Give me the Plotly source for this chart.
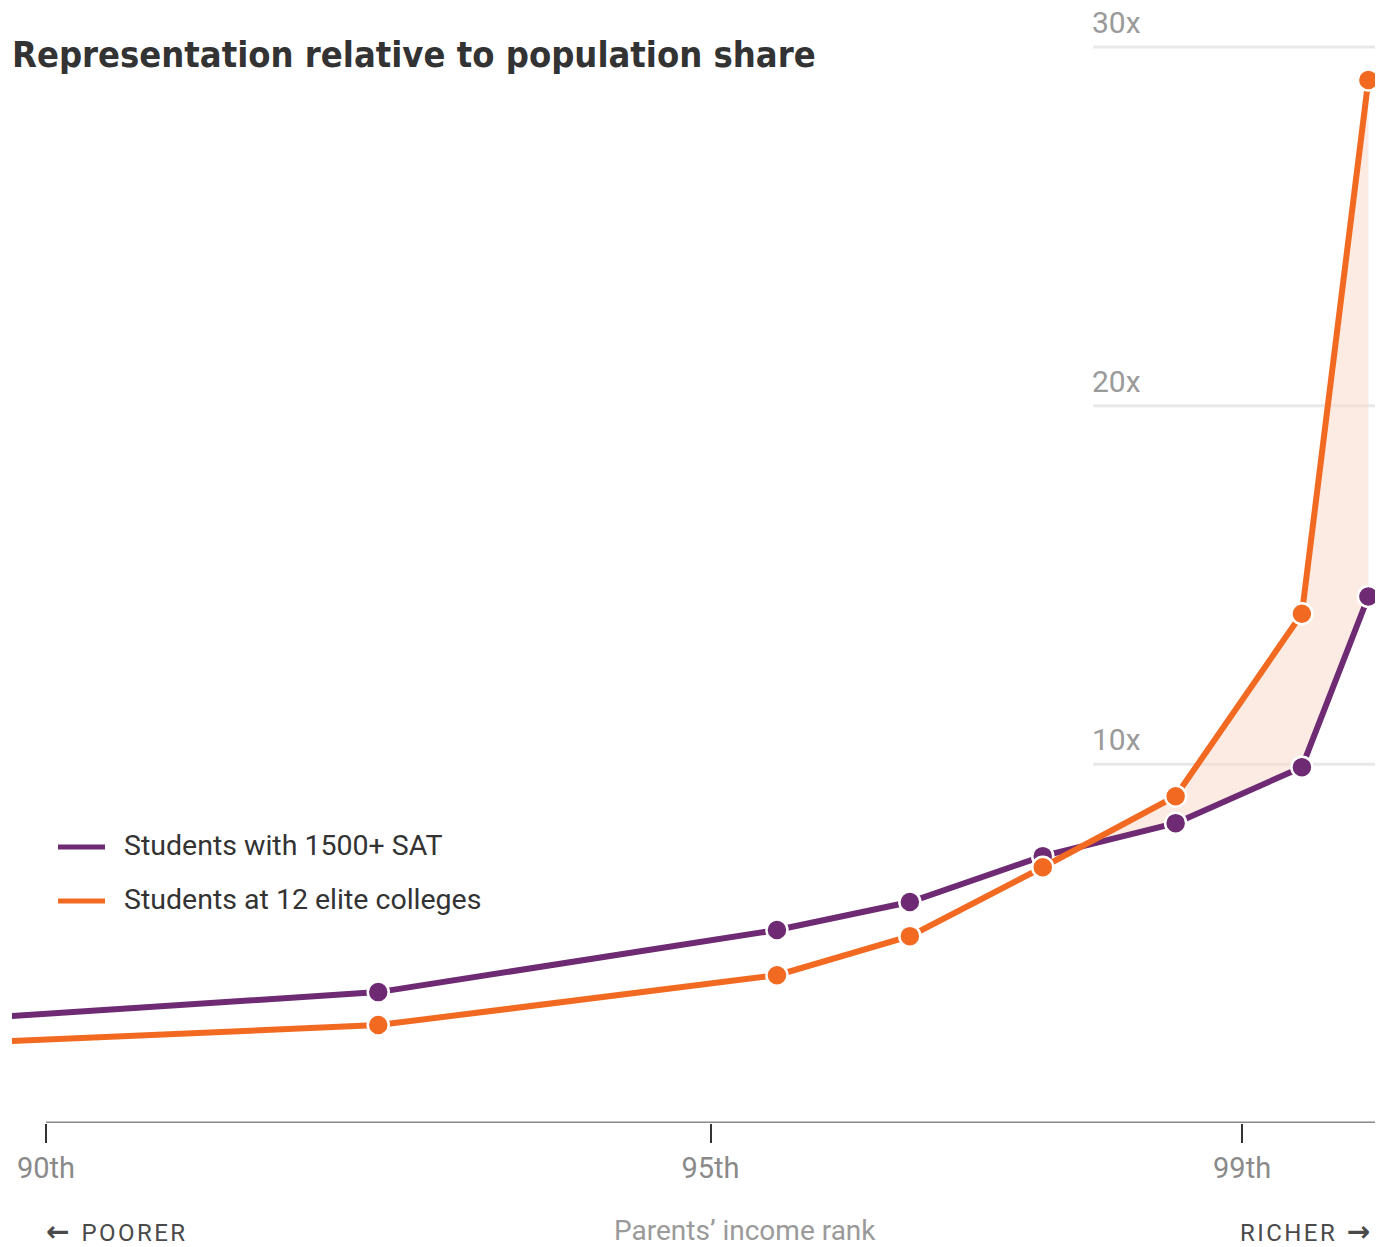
import numpy as np
import plotly.graph_objects as go

# ---- data ----
income_rank = [87.5, 92.5, 95.5, 96.5, 97.5, 98.5, 99.45, 99.95]
sat_1500 = [2.44, 3.65, 5.38, 6.16, 7.44, 8.36, 9.92, 14.68]
elite_colleges = [1.92, 2.73, 4.12, 5.21, 7.13, 9.11, 14.2, 29.08]
tick_vals = [90, 95, 99]
tick_text = ["90th", "95th", "99th"]
grid_vals = [10, 20, 30]
grid_text = ["10x", "20x", "30x"]
series_names = ["Students with 1500+ SAT", "Students at 12 elite colleges"]

PURPLE = "#6e2a73"
ORANGE = "#f26a22"
FILL = "rgba(250,215,198,0.5)"

W, H = 1394, 1247
L, R, T, B = 12, 1375, 0, 1123


def px(x):
    return (x - L) / (R - L)


def py(y):
    return (B - y) / (B - T)


# crossing point for the shaded region
xs = np.array(income_rank)
d = np.array(elite_colleges) - np.array(sat_1500)
i = int(np.where((d[:-1] < 0) & (d[1:] >= 0))[0][-1])
t = -d[i] / (d[i + 1] - d[i])
xc = xs[i] + t * (xs[i + 1] - xs[i])
yc = sat_1500[i] + t * (sat_1500[i + 1] - sat_1500[i])
fill_x = [xc] + income_rank[i + 1:] + income_rank[i + 1:][::-1]
fill_y = [yc] + elite_colleges[i + 1:] + sat_1500[i + 1:][::-1]

fig = go.Figure()
fig.add_trace(go.Scatter(x=fill_x, y=fill_y, fill="toself", fillcolor=FILL,
                         line=dict(width=0), mode="lines", hoverinfo="skip",
                         showlegend=False))
for name, vals, col in [(series_names[0], sat_1500, PURPLE),
                        (series_names[1], elite_colleges, ORANGE)]:
    fig.add_trace(go.Scatter(
        x=income_rank, y=vals, name=name, mode="lines+markers",
        line=dict(color=col, width=6),
        marker=dict(size=21, color=col, line=dict(color="white", width=2.5)),
        showlegend=False))

shapes = []
annotations = []
# gridlines on the right
for v, txt in zip(grid_vals, grid_text):
    shapes.append(dict(type="line", xref="x", yref="y", x0=97.88, x1=100, y0=v, y1=v,
                       line=dict(color="#e8e8e8", width=3), layer="below"))
    annotations.append(dict(xref="x", yref="y", x=97.88, y=v, text=txt, showarrow=False,
                            xanchor="left", yanchor="bottom", yshift=5, xshift=-3,
                            font=dict(family="Roboto", size=30, color="#9a9a9a")))
# x axis baseline
shapes.append(dict(type="line", xref="x", yref="y", x0=90, x1=100, y0=0, y1=0,
                   line=dict(color="#8a8a8a", width=3)))

# legend
for k, (name, col) in enumerate(zip(series_names, [PURPLE, ORANGE])):
    ypx = 847 + k * 54
    shapes.append(dict(type="line", xref="paper", yref="paper",
                       x0=px(58), x1=px(105), y0=py(ypx), y1=py(ypx),
                       line=dict(color=col, width=5)))
    annotations.append(dict(xref="paper", yref="paper", x=px(122), y=py(ypx - 2),
                            text=name, showarrow=False, xanchor="left", yanchor="middle",
                            font=dict(family="Roboto", size=28.5, color="#333333")))

# title
annotations.append(dict(xref="paper", yref="paper", x=px(10), y=py(55),
                        text="<b>Representation relative to population share</b>",
                        showarrow=False, xanchor="left", yanchor="middle",
                        font=dict(family="DejaVu Sans Condensed, Liberation Sans Narrow, Roboto, sans-serif",
                                  size=36, color="#333333")))
# bottom labels
HS = "\u200a"
ARROW = "<span style=\"font-family:'DejaVu Sans';font-size:28px\"><b>{}</b></span>"
annotations.append(dict(xref="paper", yref="paper", x=px(44), y=py(1231),
                        text=ARROW.format("←") + "\u00a0\u00a0" + HS.join("POORER"), showarrow=False,
                        xanchor="left", yanchor="middle",
                        font=dict(family="Roboto", size=24, color="#4a4a4a")))
annotations.append(dict(xref="paper", yref="paper", x=px(745), y=py(1230),
                        text="Parents’ income rank", showarrow=False, xanchor="center",
                        yanchor="middle", font=dict(family="Roboto", size=28, color="#9a9a9a")))
annotations.append(dict(xref="paper", yref="paper", x=px(1372), y=py(1231),
                        text=HS.join("RICHER") + "\u00a0\u00a0" + ARROW.format("→"), showarrow=False,
                        xanchor="right", yanchor="middle",
                        font=dict(family="Roboto", size=24, color="#4a4a4a")))

fig.update_layout(
    width=W, height=H,
    margin=dict(l=L, r=W - R, t=T, b=H - B, pad=0),
    plot_bgcolor="white", paper_bgcolor="white",
    xaxis=dict(range=[90 - 34 / 132.9, 100], tickvals=tick_vals, ticktext=tick_text,
               showgrid=False, zeroline=False, showline=False,
               ticks="outside", ticklen=19, tickwidth=2, tickcolor="#333333",
               tickfont=dict(family="Roboto", size=29, color="#8a8a8a")),
    yaxis=dict(range=[0, 30 + 47 / 35.87], showgrid=False, zeroline=False,
               showticklabels=False, showline=False),
    shapes=shapes, annotations=annotations,
)

fig.write_html("out.html", config={"displayModeBar": False},
               post_script="document.body.style.margin='0';")
